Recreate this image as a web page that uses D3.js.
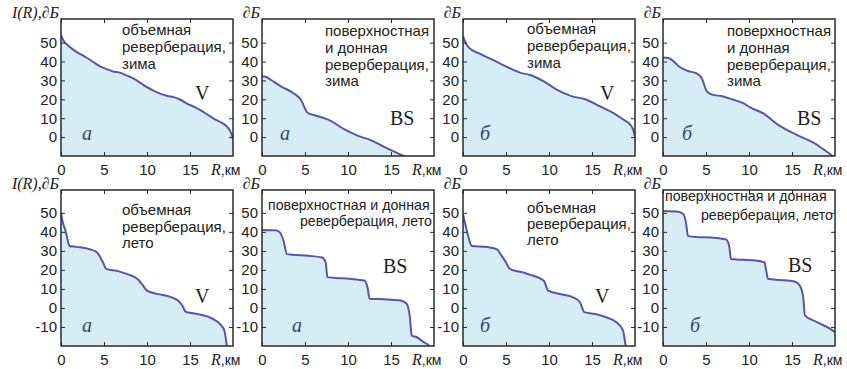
<!DOCTYPE html>
<html>
<head>
<meta charset="utf-8">
<script src="https://cdn.jsdelivr.net/npm/d3@7"></script>
<style>
  body { margin: 0; background: #fff; }
  svg { display: block; }
  .tick text { font-family: Arial, "Liberation Sans", sans-serif; font-size: 15px; fill: #222; }
  .note { font-family: Arial, "Liberation Sans", sans-serif; font-size: 15px; fill: #222; }
  .note.wide { font-size: 14.2px; }
  .mark { font-family: "Times New Roman", "Liberation Serif", serif; font-size: 20px; fill: #222; }
  .variant { font-family: "Times New Roman", "Liberation Serif", serif; font-style: italic; font-size: 20px; fill: #2c4a6a; }
  .axlabel { font-family: "Times New Roman", "Liberation Serif", serif; font-style: italic; font-size: 16px; fill: #222; }
  .axunit { font-family: Arial, "Liberation Sans", sans-serif; font-size: 14px; fill: #222; }
</style>
</head>
<body>
<svg id="chart" width="847" height="369"></svg>
<script>
// --- data: [R km, I(R) dB] ---
const winterVolumeA = [[0,54],[0.3,51],[0.7,49],[1.5,46],[2.2,44],[3,42],[3.8,39.6],[4.5,37.5],[5.3,36],[6,34.8],[6.9,34],[7.7,32.5],[8.5,30.8],[9.3,28.5],[10,26.4],[10.8,24.5],[11.6,22.9],[12.4,21.8],[13.2,21],[14,19.5],[14.7,17.6],[15.5,16],[16.3,14],[17,12],[17.8,9.7],[18.6,7.8],[19.3,5.5],[19.7,3],[20,-1]];
const winterBottomA = [[0,32.2],[0.5,31.8],[1.1,30.1],[2.3,26.6],[3.5,23.7],[4.5,19.9],[5.3,12.9],[6.4,11.2],[8,8.6],[9.5,4.3],[11.1,0.8],[12.7,-1.7],[14.2,-5.2],[15.8,-8.6],[16.4,-9.8],[17,-11]];
const winterVolumeB = [[0,53.5],[0.3,50],[0.66,47.5],[2,44],[3.6,40.6],[5.1,37.2],[6.7,34],[7.8,32.9],[9.4,29.5],[11,24.8],[12.6,21.7],[14.2,20],[15.8,16.6],[17.3,13.2],[18.5,9.7],[19.5,6.3],[19.8,3.7],[20,0.2]];
const winterBottomB = [[0,42],[0.5,42],[1.1,40.6],[1.9,37.2],[2.9,35],[3.9,33.7],[4.5,31.1],[5.1,24.2],[5.7,22.5],[6.9,21.6],[8.1,19.9],[9.2,18.2],[10.2,15.6],[11.8,12.2],[13.3,6.7],[15.6,1.1],[17.6,-3.2],[18.7,-6.6],[19.5,-9.2],[20,-11]];
const summerVolumeA = [[0,50],[0.27,44],[0.47,41.4],[0.67,38],[0.98,32.6],[1.8,32.1],[3.4,30.8],[4.2,29.1],[4.8,24.7],[5.3,20.4],[6.5,19.5],[7.7,17.8],[8.9,15.2],[9.4,12.6],[10,9.1],[11.2,7.4],[12.8,5.7],[13.6,3.9],[14.1,1.3],[14.5,-2],[15.5,-2.9],[17.1,-4.6],[18.2,-7.3],[18.6,-9],[19,-12],[19.3,-20],[19.4,-22]];
const summerBottomA = [[0,41],[1.6,40.8],[2.1,39.6],[2.5,35.3],[2.9,28.3],[3.5,28],[5.4,27.4],[7,26.5],[7.4,24],[7.6,16.2],[8.6,15.8],[10.2,15.3],[11.9,14.4],[12.3,10.1],[12.5,4.9],[14.1,4.6],[16,4],[16.8,2.3],[17.2,-4.9],[17.4,-14.5],[18,-15.4],[18.8,-18],[19.4,-19.7],[19.6,-21]];
const summerVolumeB = [[0,49.2],[0.4,41.5],[0.7,36.2],[1,32.6],[2.8,32.1],[3.9,30.9],[4.5,27.4],[4.9,24.7],[5.5,20.4],[7,18.6],[8.2,16.9],[9.4,14.3],[9.9,9.1],[11.3,7.3],[12.8,5.6],[13.6,3],[14.1,-2.2],[15.1,-3],[16.6,-4.8],[17.8,-7.4],[18.6,-11.8],[18.9,-19.5],[19,-22]];
const summerBottomB = [[0,51],[1.8,50.6],[2.4,49.2],[2.7,44],[2.9,37.9],[3.8,37.3],[5.7,37],[7.3,36.1],[7.7,32.6],[7.9,25.7],[9.3,25.3],[10.8,24.9],[11.8,24],[12,19.6],[12.2,15.3],[13.6,14.7],[15.3,13.9],[15.9,11.8],[16.3,5.7],[16.5,-3.9],[17.9,-7.4],[19.4,-10.9],[20,-12.7]];

const xTicks = [0, 5, 10, 15];
const yTicksWinter = [0, 10, 20, 30, 40, 50];
const yTicksSummer = [-10, 0, 10, 20, 30, 40, 50];

const noteVolumeWinter = ["объемная", "реверберация,", "зима"];
const noteBottomWinter = ["поверхностная", "и донная", "реверберация,", "зима"];
const noteVolumeSummer = ["объемная", "реверберация,", "лето"];
const noteBottomSummer = ["поверхностная и донная", "реверберация, лето"];

// --- layout ---
const svg = d3.select("#chart");
const PANEL_W = 172;
const lefts = [61, 262, 463, 663];
const rows = [
  { top: 19, bottom: 156, domain: [-10, 62.5], ticks: yTicksWinter },
  { top: 190, bottom: 346, domain: [-20, 62], ticks: yTicksSummer }
];

const panels = [
  { row: 0, col: 0, data: winterVolumeA, note: noteVolumeWinter, noteX: 61, noteY: [16, 33, 50], mark: "V", markPos: [134, 81], variant: "а", varPos: [21, 121] },
  { row: 0, col: 1, data: winterBottomA, note: noteBottomWinter, noteX: 63, noteY: [17, 34, 51, 67], mark: "BS", markPos: [128, 106], variant: "а", varPos: [18, 121] },
  { row: 0, col: 2, data: winterVolumeB, note: noteVolumeWinter, noteX: 64, noteY: [15, 32, 49], mark: "V", markPos: [137, 81], variant: "б", varPos: [17, 121] },
  { row: 0, col: 3, data: winterBottomB, note: noteBottomWinter, noteX: 64, noteY: [17, 34, 51, 67], mark: "BS", markPos: [134, 106], variant: "б", varPos: [19, 121] },
  { row: 1, col: 0, data: summerVolumeA, note: noteVolumeSummer, noteX: 61, noteY: [25, 42, 58], mark: "V", markPos: [134, 113], variant: "а", varPos: [21, 142] },
  { row: 1, col: 1, data: summerBottomA, note: noteBottomSummer, noteX: 6, noteY: [20, 36], wide: true, mark: "BS", markPos: [121, 83], variant: "а", varPos: [30, 142] },
  { row: 1, col: 2, data: summerVolumeB, note: noteVolumeSummer, noteX: 64, noteY: [23, 39, 55], mark: "V", markPos: [132, 113], variant: "б", varPos: [17, 142] },
  { row: 1, col: 3, data: summerBottomB, note: noteBottomSummer, noteX: 2, noteY: [11, 30], wide: true, mark: "BS", markPos: [125, 82], variant: "б", varPos: [27, 142] }
];

const FILL = "#d6edf5";
const LINE = "#5558a2";
const FRAME = "#2a2a2a";

// plain hyphen for negatives, as in the original figure
const tickText = d => String(d);

panels.forEach((p, i) => {
  const row = rows[p.row];
  const left = lefts[p.col];
  const h = row.bottom - row.top;

  const x = d3.scaleLinear().domain([0, 20]).range([0, PANEL_W]);
  const y = d3.scaleLinear().domain(row.domain).range([h, 0]);

  const g = svg.append("g").attr("transform", `translate(${left},${row.top})`);

  g.append("clipPath").attr("id", "clip" + i)
    .append("rect").attr("width", PANEL_W).attr("height", h);

  const plot = g.append("g").attr("clip-path", `url(#clip${i})`);

  // smooth but monotone, so the steps keep their shape
  const area = d3.area()
    .curve(d3.curveMonotoneX)
    .x(d => x(d[0]))
    .y0(h)
    .y1(d => y(d[1]));
  const line = d3.line()
    .curve(d3.curveMonotoneX)
    .x(d => x(d[0]))
    .y(d => y(d[1]));

  plot.append("path").datum(p.data).attr("d", area).attr("fill", FILL);
  plot.append("path").datum(p.data).attr("d", line)
    .attr("fill", "none").attr("stroke", LINE).attr("stroke-width", 2)
    .attr("stroke-linejoin", "round");

  // axes with inward ticks, MATLAB style box
  const ax = (sel) => { sel.select(".domain").remove(); sel.selectAll("line").attr("stroke", FRAME); };
  g.append("g").attr("transform", `translate(0,${h})`)
    .call(d3.axisBottom(x).tickValues(xTicks).tickSize(-4).tickPadding(8).tickFormat(tickText))
    .call(ax);
  g.append("g")
    .call(d3.axisTop(x).tickValues(xTicks).tickSize(-4).tickFormat(""))
    .call(ax);
  g.append("g")
    .call(d3.axisLeft(y).tickValues(row.ticks).tickSize(-4).tickPadding(4).tickFormat(tickText))
    .call(ax);
  g.append("g").attr("transform", `translate(${PANEL_W},0)`)
    .call(d3.axisRight(y).tickValues(row.ticks).tickSize(-4).tickFormat(""))
    .call(ax);

  g.append("rect").attr("width", PANEL_W).attr("height", h)
    .attr("fill", "none").attr("stroke", FRAME).attr("stroke-width", 1.5);

  // annotation text
  p.note.forEach((t, k) => {
    const txt = g.append("text").attr("class", p.wide ? "note wide" : "note")
      .attr("y", p.noteY[k]).text(t);
    if (p.wide && k === 1) txt.attr("x", PANEL_W - 2).attr("text-anchor", "end");
    else txt.attr("x", p.noteX);
  });

  g.append("text").attr("class", "mark")
    .attr("x", p.markPos[0]).attr("y", p.markPos[1]).text(p.mark);
  g.append("text").attr("class", "variant")
    .attr("x", p.varPos[0]).attr("y", p.varPos[1]).text(p.variant);

  // y label above the axis
  g.append("text").attr("class", "axlabel")
    .attr("x", -2).attr("y", -1).attr("text-anchor", "end")
    .text(p.col === 0 ? "I(R),∂Б" : "∂Б");

  // x label after the last tick
  const xl = g.append("text").attr("x", 150).attr("y", h + 19);
  xl.append("tspan").attr("class", "axlabel").text("R");
  xl.append("tspan").attr("class", "axunit").text(",км");
});
</script>
</body>
</html>
